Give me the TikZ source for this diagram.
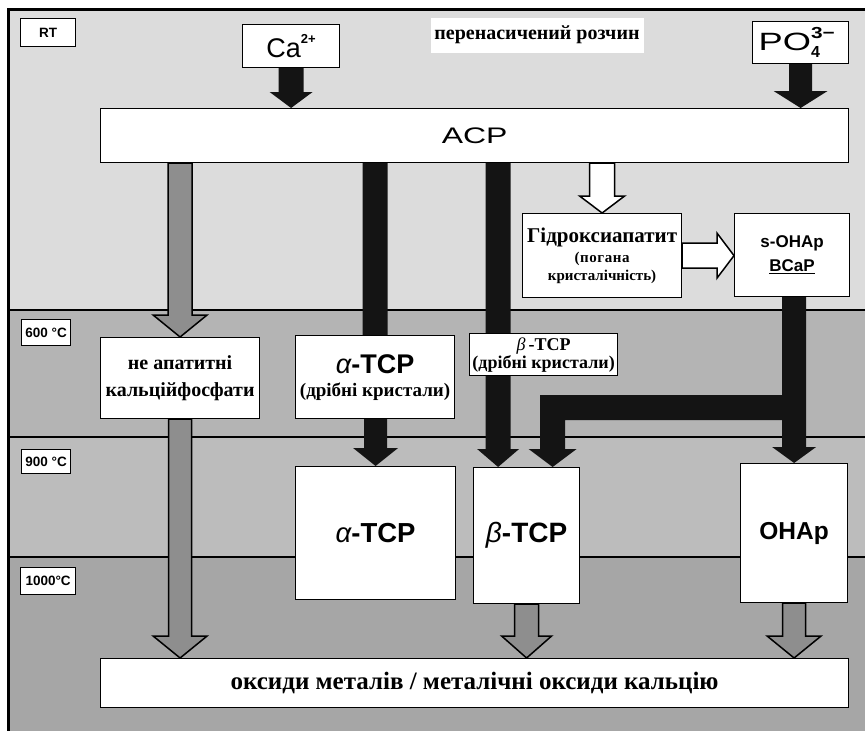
\documentclass[tikz,border=0pt]{standalone}
\usepackage{fontspec}
\setmainfont{Liberation Serif}
\setsansfont{Liberation Sans}
\usetikzlibrary{calc}
\pgfdeclarelayer{back}
\pgfdeclarelayer{arr}
\pgfsetlayers{back,arr,main}
\definecolor{bandrt}{HTML}{DCDCDC}
\definecolor{bandsix}{HTML}{B4B4B4}
\definecolor{bandnine}{HTML}{BCBCBC}
\definecolor{bandthou}{HTML}{A6A6A6}
\definecolor{arrgray}{HTML}{8E8E8E}
\newcommand\myfatdown[6]{\path[#6] let \p1=(#1), \p2=(#2) in
  (\x2-#3,\y1) -- (\x2-#3,\y2+#5) -- (\x2-#4,\y2+#5) -- (\x2,\y2) --
  (\x2+#4,\y2+#5) -- (\x2+#3,\y2+#5) -- (\x2+#3,\y1) -- cycle;}
\newcommand\myfatright[6]{\path[#6] let \p1=(#1), \p2=(#2) in
  (\x1,\y2+#3) -- (\x2-#5,\y2+#3) -- (\x2-#5,\y2+#4) -- (\x2,\y2) --
  (\x2-#5,\y2-#4) -- (\x2-#5,\y2-#3) -- (\x1,\y2-#3) -- cycle;}
\begin{document}
\begin{tikzpicture}[x=1pt,y=-1pt,
  box/.style={draw=black, line width=1.2pt, fill=white, inner sep=0pt, anchor=north west, align=center},
  blk/.style={fill=black!92},
  gry/.style={fill=arrgray, draw=black, line width=1.5pt, line join=miter},
  wht/.style={fill=white, draw=black, line width=1.5pt, line join=miter},
  tlabel/.style={box, font=\sffamily\bfseries\fontsize{13.5}{14}\selectfont},
  ser/.style={font=\bfseries\fontsize{20}{27}\selectfont}]
\useasboundingbox (0,0) rectangle (865,731);
\begin{pgfonlayer}{back}
  \fill[white] (0,0) rectangle (865,731);
  \fill[bandrt] (8,9) rectangle (865,310);
  \fill[bandsix] (8,310) rectangle (865,437);
  \fill[bandnine] (8,437) rectangle (865,557);
  \fill[bandthou] (8,557) rectangle (865,731);
  \draw[line width=2pt] (8,310) -- (865,310) (8,437) -- (865,437) (8,557) -- (865,557);
  \draw[line width=3pt] (8,731) -- (8,9) -- (865,9);
\end{pgfonlayer}

\node[tlabel, minimum width=55pt, minimum height=28pt] (rt) at (20,18) {RT};
\node[tlabel, minimum width=49pt, minimum height=26pt] (t600) at (21,319) {600 °C};
\node[tlabel, minimum width=49pt, minimum height=24pt] (t900) at (21,449) {900 °C};
\node[tlabel, minimum width=55pt, minimum height=27pt] (t1000) at (20,567) {1000°C};

\node[box, minimum width=97pt, minimum height=43pt, font=\sffamily\fontsize{27}{27}\selectfont] (ca) at (242,24)
  {Ca\raisebox{0.5em}{\bfseries\fontsize{13}{13}\selectfont 2+}};
\node[box, minimum width=96pt, minimum height=42pt, font=\sffamily\fontsize{25}{25}\selectfont] (po) at (752,21)
  {\scalebox{1.45}[1]{PO}\rlap{\raisebox{0.45em}{\bfseries\fontsize{16}{16}\selectfont\scalebox{1.3}[1]{3−}}}\raisebox{-0.3em}{\bfseries\fontsize{16}{16}\selectfont 4}\hspace{0.9em}};
\node[fill=white, inner sep=0pt, minimum width=213pt, minimum height=35pt, font=\bfseries\fontsize{20}{20}\selectfont] (sol) at (537,35) {перенасичений розчин};

\node[box, minimum width=748pt, minimum height=54pt, font=\sffamily\fontsize{22.5}{23}\selectfont] (acp) at (100,108) {\scalebox{1.42}[1]{ACP}};
\node[box, minimum width=159pt, minimum height=81pt, ser] (nonap) at (100,337) {не апатитні\\кальційфосфати};
\node[box, minimum width=159pt, minimum height=83pt, font=\bfseries\fontsize{19}{23}\selectfont] (asmall) at (295,335)
  {{\sffamily\fontsize{27}{27}\selectfont{\mdseries\itshape α}-TCP}\\(дрібні кристали)};
\node[box, minimum width=160pt, minimum height=133pt, font=\sffamily\bfseries\fontsize{27.5}{28}\selectfont] (abig) at (295,466) {{\mdseries\itshape α}-TCP};
\node[box, minimum width=148pt, minimum height=42pt, font=\bfseries\fontsize{18}{18}\selectfont] (bsmall) at (469,333)
  {{\mdseries\itshape β}\,-TCP\\(дрібні кристали)};
\node[box, minimum width=106pt, minimum height=136pt, font=\sffamily\bfseries\fontsize{28}{28}\selectfont] (bbig) at (473,467) {{\mdseries\itshape β}-TCP};
\node[box, minimum width=159pt, minimum height=84pt, font=\bfseries\fontsize{15}{18}\selectfont] (hydro) at (522,213)
  {{\fontsize{21}{21}\selectfont Гідроксиапатит}\\[2pt]\addfontfeatures{LetterSpace=4}(погана\\кристалічність)};
\node[box, minimum width=115pt, minimum height=83pt, font=\sffamily\bfseries\fontsize{17}{24}\selectfont] (sohap) at (734,213) {s-OHAp\\\underline{BCaP}};
\node[box, minimum width=107pt, minimum height=139pt, font=\sffamily\bfseries\fontsize{24.5}{25}\selectfont] (ohap) at (740,463) {OHAp};
\node[box, minimum width=748pt, minimum height=49pt, font=\bfseries\fontsize{25}{25}\selectfont] (oxid) at (100,658) {оксиди металів / металічні оксиди кальцію};

\begin{pgfonlayer}{arr}
  % Ca and PO4 into ACP
  \myfatdown{ca.south}{ca.south |- acp.north}{12.5pt}{21.5pt}{16pt}{blk}
  \myfatdown{po.south}{po.south |- acp.north}{11.5pt}{27pt}{17pt}{blk}
  % ACP -> non-apatitic -> oxides
  \myfatdown{acp.south}{nonap.north}{12pt}{27pt}{22pt}{gry}
  \myfatdown{nonap.south}{nonap.south |- oxid.north}{11.5pt}{27pt}{22pt}{gry}
  % ACP -> alpha-TCP (small) -> alpha-TCP
  \myfatdown{acp.south}{asmall.north}{12.5pt}{12.5pt}{0pt}{blk}
  \myfatdown{asmall.south}{abig.north}{11.5pt}{22.5pt}{18pt}{blk}
  % ACP -> beta-TCP
  \myfatdown{acp.south}{[xshift=-28.5pt]bbig.north}{12.5pt}{21pt}{18pt}{blk}
  % ACP -> hydroxyapatite -> s-OHAp
  \myfatdown{acp.south}{hydro.north}{12.5pt}{22.5pt}{17pt}{wht}
  \myfatright{hydro.east}{sohap.west |- hydro.east}{12.5pt}{22.5pt}{17pt}{wht}
  % s-OHAp -> OHAp
  \myfatdown{sohap.south}{ohap.north}{12pt}{22pt}{16pt}{blk}
  % branch s-OHAp -> beta-TCP
  \path[blk] let \p1=(ohap.north), \p2=([xshift=26pt]bbig.north), \p3=(0,407.5) in
    (\x1,\y3+12.5pt) -- (\x2-12.5pt,\y3+12.5pt) -- (\x2-12.5pt,\y2+18pt) -- (\x2-24pt,\y2+18pt) --
    (\x2,\y2) -- (\x2+24pt,\y2+18pt) -- (\x2+12.5pt,\y2+18pt) -- (\x2+12.5pt,\y3-12.5pt) -- (\x1,\y3-12.5pt) -- cycle;
  % beta-TCP and OHAp -> oxides
  \myfatdown{bbig.south}{bbig.south |- oxid.north}{12pt}{25pt}{22pt}{gry}
  \myfatdown{ohap.south}{ohap.south |- oxid.north}{11.5pt}{27pt}{22pt}{gry}
\end{pgfonlayer}
\end{tikzpicture}
\end{document}
